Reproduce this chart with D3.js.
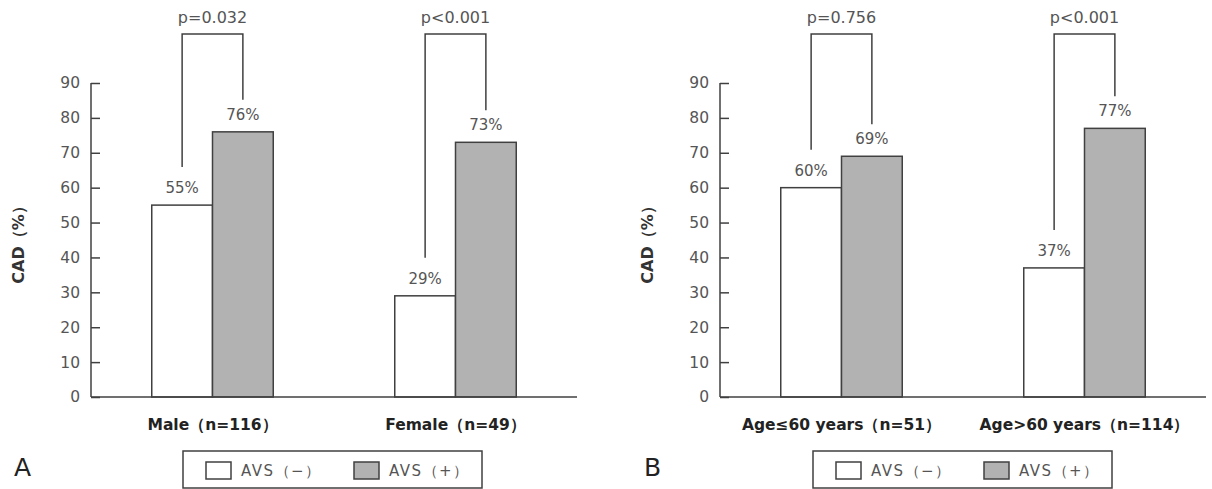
<!DOCTYPE html>
<html>
<head>
<meta charset="utf-8">
<script src="https://cdn.jsdelivr.net/npm/d3@7"></script>
<style>
  body { margin: 0; background: #fff; }
  text { font-family: "DejaVu Sans", sans-serif; }
</style>
</head>
<body>
<div class="card"></div>
<script>
/* global d3*/

// ---- data ----
var seriesNames = ["AVS（−）", "AVS（+）"];
var panelLetters = ["A", "B"];
var categoriesA = ["Male（n=116）", "Female（n=49）"];
var categoriesB = ["Age≤60 years（n=51）", "Age>60 years（n=114）"];
var avsNegA = [55, 29];
var avsPosA = [76, 73];
var avsNegB = [60, 37];
var avsPosB = [69, 77];
var pValuesA = ["p=0.032", "p<0.001"];
var pValuesB = ["p=0.756", "p<0.001"];
var yTicks = [0, 10, 20, 30, 40, 50, 60, 70, 80, 90];

var width = 1212,
    height = 489;

var svg = d3.select(".card").append("svg")
    .attr("width", width)
    .attr("height", height);

var fills = ["#ffffff", "#b2b2b2"];
var lineColor = "#404040";
var textColor = "#555";

var drawPanel = function(opts) {
    var g = svg.append("g")
        .attr("transform", "translate(" + opts.x + ",0)");

    var y = d3.scaleLinear().domain([0, 90]).range([397, 83]);

    var x0 = d3.scaleBand()
        .domain(opts.categories)
        .range([0, 486])
        .paddingInner(0.5)
        .paddingOuter(0.25);

    var x1 = d3.scaleBand()
        .domain([0, 1])
        .range([0, x0.bandwidth()]);

    // y axis, ticks pointing inward
    var yAxis = d3.axisRight(y).tickValues(yTicks).tickSize(9).tickFormat("");
    var ya = g.append("g").call(yAxis);
    ya.select(".domain").remove();
    ya.selectAll(".tick line").attr("stroke", lineColor).attr("stroke-width", 1.5);
    g.append("line")
        .attr("x1", 0).attr("x2", 0)
        .attr("y1", y(90)).attr("y2", y(0))
        .attr("stroke", lineColor).attr("stroke-width", 1.5);

    g.selectAll(".ytick").data(yTicks).enter().append("text")
        .attr("x", -11)
        .attr("y", function(d) { return y(d); })
        .attr("dy", "0.35em")
        .attr("text-anchor", "end")
        .attr("fill", textColor)
        .style("font-size", "15.5px")
        .text(function(d) { return d; });

    // y label
    g.append("text")
        .attr("transform", "translate(" + (-67) + "," + 241 + ") rotate(-90)")
        .attr("text-anchor", "middle")
        .attr("fill", "#333")
        .style("font-size", "16px")
        .style("font-weight", "bold")
        .text("CAD（%）");

    // bars
    var rows = opts.categories.map(function(c, i) {
        return { cat: c, vals: [opts.neg[i], opts.pos[i]], p: opts.p[i] };
    });

    var grp = g.selectAll(".grp").data(rows).enter().append("g")
        .attr("transform", function(d) { return "translate(" + x0(d.cat) + ",0)"; });

    grp.selectAll("rect").data(function(d) { return d.vals; }).enter().append("rect")
        .attr("x", function(d, i) { return x1(i); })
        .attr("y", function(d) { return y(d); })
        .attr("width", x1.bandwidth())
        .attr("height", function(d) { return y(0) - y(d); })
        .attr("fill", function(d, i) { return fills[i]; })
        .attr("stroke", lineColor)
        .attr("stroke-width", 1.5);

    grp.selectAll(".lbl").data(function(d) { return d.vals; }).enter().append("text")
        .attr("x", function(d, i) { return x1(i) + x1.bandwidth() / 2; })
        .attr("y", function(d) { return y(d) - 12; })
        .attr("text-anchor", "middle")
        .attr("fill", textColor)
        .style("font-size", "15px")
        .text(function(d) { return d + "%"; });

    // significance bracket
    grp.append("path")
        .attr("d", function(d) {
            var xa = x1(0) + x1.bandwidth() / 2,
                xb = x1(1) + x1.bandwidth() / 2;
            return "M" + xa + "," + (y(d.vals[0]) - 38) +
                "V34H" + xb + "V" + (y(d.vals[1]) - 32);
        })
        .attr("fill", "none")
        .attr("stroke", lineColor)
        .attr("stroke-width", 1.5);

    grp.append("text")
        .attr("x", x0.bandwidth() / 2)
        .attr("y", 23)
        .attr("text-anchor", "middle")
        .attr("fill", textColor)
        .style("font-size", "16px")
        .text(function(d) { return d.p; });

    // x axis
    g.append("line")
        .attr("x1", 0).attr("x2", 486)
        .attr("y1", y(0)).attr("y2", y(0))
        .attr("stroke", lineColor).attr("stroke-width", 1.5);

    grp.append("text")
        .attr("x", x0.bandwidth() / 2)
        .attr("y", 430)
        .attr("text-anchor", "middle")
        .attr("fill", "#222")
        .style("font-size", "15.5px")
        .style("font-weight", "bold")
        .text(function(d) { return d.cat; });

    // panel letter
    g.append("text")
        .attr("x", opts.letterX - opts.x)
        .attr("y", 476)
        .attr("fill", "#222")
        .style("font-size", "25px")
        .text(opts.letter);

    // legend
    var leg = g.append("g").attr("transform", "translate(" + opts.legendX + ",451)");
    leg.append("rect")
        .attr("width", 299).attr("height", 37)
        .attr("fill", "#fff").attr("stroke", lineColor).attr("stroke-width", 1.5);
    var items = leg.selectAll(".li").data(seriesNames).enter().append("g")
        .attr("transform", function(d, i) { return "translate(" + (23 + i * 148) + ",11)"; });
    items.append("rect")
        .attr("width", 25).attr("height", 17)
        .attr("fill", function(d, i) { return fills[i]; })
        .attr("stroke", lineColor).attr("stroke-width", 1.5);
    items.append("text")
        .attr("x", 35).attr("y", 9)
        .attr("dy", "0.35em")
        .attr("fill", textColor)
        .style("font-size", "15px")
        .style("letter-spacing", "1.5px")
        .text(function(d) { return d; });
};

drawPanel({ x: 91, letter: panelLetters[0], letterX: 14, legendX: 92,
    categories: categoriesA, neg: avsNegA, pos: avsPosA, p: pValuesA });
drawPanel({ x: 720, letter: panelLetters[1], letterX: 644, legendX: 93,
    categories: categoriesB, neg: avsNegB, pos: avsPosB, p: pValuesB });
</script>
</body>
</html>
